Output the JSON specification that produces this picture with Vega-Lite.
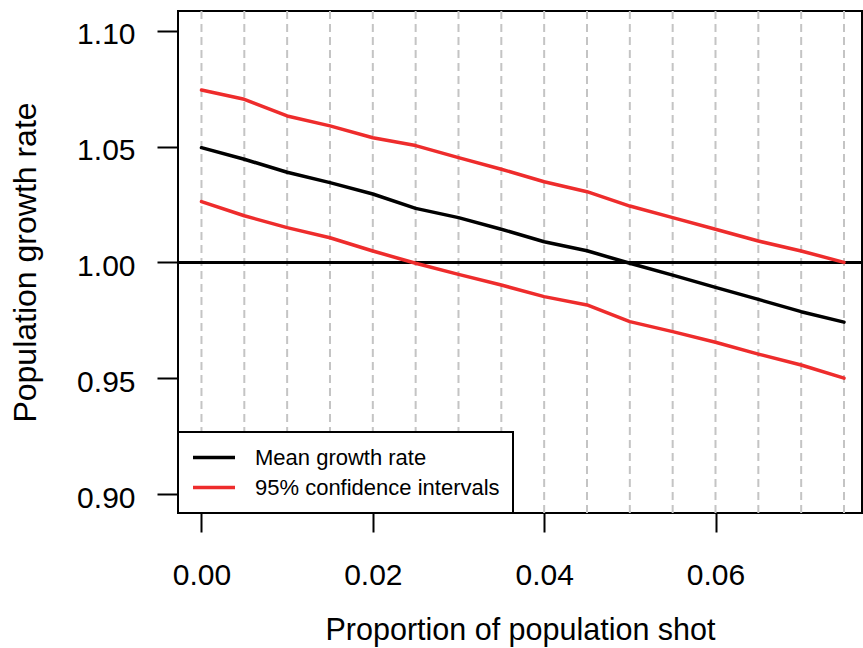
{
  "$schema": "https://vega.github.io/schema/vega-lite/v6.json",
  "width": 684,
  "height": 502,
  "autosize": {"type": "none"},
  "padding": {"left": 178, "top": 11, "right": 1, "bottom": 135},
  "background": "white",
  "config": {
    "view": {"stroke": "black", "strokeWidth": 2},
    "font": "Liberation Sans"
  },
  "data": {
    "values": [
      {"p": 0.000, "series": "mean", "type": "Mean growth rate", "r": 1.0495},
      {"p": 0.005, "series": "mean", "type": "Mean growth rate", "r": 1.0445},
      {"p": 0.010, "series": "mean", "type": "Mean growth rate", "r": 1.0389},
      {"p": 0.015, "series": "mean", "type": "Mean growth rate", "r": 1.0344},
      {"p": 0.020, "series": "mean", "type": "Mean growth rate", "r": 1.0295},
      {"p": 0.025, "series": "mean", "type": "Mean growth rate", "r": 1.0233},
      {"p": 0.030, "series": "mean", "type": "Mean growth rate", "r": 1.0193},
      {"p": 0.035, "series": "mean", "type": "Mean growth rate", "r": 1.0143},
      {"p": 0.040, "series": "mean", "type": "Mean growth rate", "r": 1.0089},
      {"p": 0.045, "series": "mean", "type": "Mean growth rate", "r": 1.0050},
      {"p": 0.050, "series": "mean", "type": "Mean growth rate", "r": 0.9996},
      {"p": 0.055, "series": "mean", "type": "Mean growth rate", "r": 0.9945},
      {"p": 0.060, "series": "mean", "type": "Mean growth rate", "r": 0.9892},
      {"p": 0.065, "series": "mean", "type": "Mean growth rate", "r": 0.9840},
      {"p": 0.070, "series": "mean", "type": "Mean growth rate", "r": 0.9787},
      {"p": 0.075, "series": "mean", "type": "Mean growth rate", "r": 0.9742},
      {"p": 0.000, "series": "upper", "type": "95% confidence intervals", "r": 1.0744},
      {"p": 0.005, "series": "upper", "type": "95% confidence intervals", "r": 1.0704},
      {"p": 0.010, "series": "upper", "type": "95% confidence intervals", "r": 1.0632},
      {"p": 0.015, "series": "upper", "type": "95% confidence intervals", "r": 1.0589},
      {"p": 0.020, "series": "upper", "type": "95% confidence intervals", "r": 1.0538},
      {"p": 0.025, "series": "upper", "type": "95% confidence intervals", "r": 1.0504},
      {"p": 0.030, "series": "upper", "type": "95% confidence intervals", "r": 1.0452},
      {"p": 0.035, "series": "upper", "type": "95% confidence intervals", "r": 1.0402},
      {"p": 0.040, "series": "upper", "type": "95% confidence intervals", "r": 1.0348},
      {"p": 0.045, "series": "upper", "type": "95% confidence intervals", "r": 1.0305},
      {"p": 0.050, "series": "upper", "type": "95% confidence intervals", "r": 1.0243},
      {"p": 0.055, "series": "upper", "type": "95% confidence intervals", "r": 1.0193},
      {"p": 0.060, "series": "upper", "type": "95% confidence intervals", "r": 1.0143},
      {"p": 0.065, "series": "upper", "type": "95% confidence intervals", "r": 1.0092},
      {"p": 0.070, "series": "upper", "type": "95% confidence intervals", "r": 1.0049},
      {"p": 0.075, "series": "upper", "type": "95% confidence intervals", "r": 1.0000},
      {"p": 0.000, "series": "lower", "type": "95% confidence intervals", "r": 1.0262},
      {"p": 0.005, "series": "lower", "type": "95% confidence intervals", "r": 1.0201},
      {"p": 0.010, "series": "lower", "type": "95% confidence intervals", "r": 1.0150},
      {"p": 0.015, "series": "lower", "type": "95% confidence intervals", "r": 1.0106},
      {"p": 0.020, "series": "lower", "type": "95% confidence intervals", "r": 1.0049},
      {"p": 0.025, "series": "lower", "type": "95% confidence intervals", "r": 0.9996},
      {"p": 0.030, "series": "lower", "type": "95% confidence intervals", "r": 0.9948},
      {"p": 0.035, "series": "lower", "type": "95% confidence intervals", "r": 0.9902},
      {"p": 0.040, "series": "lower", "type": "95% confidence intervals", "r": 0.9852},
      {"p": 0.045, "series": "lower", "type": "95% confidence intervals", "r": 0.9816},
      {"p": 0.050, "series": "lower", "type": "95% confidence intervals", "r": 0.9744},
      {"p": 0.055, "series": "lower", "type": "95% confidence intervals", "r": 0.9701},
      {"p": 0.060, "series": "lower", "type": "95% confidence intervals", "r": 0.9655},
      {"p": 0.065, "series": "lower", "type": "95% confidence intervals", "r": 0.9604},
      {"p": 0.070, "series": "lower", "type": "95% confidence intervals", "r": 0.9557},
      {"p": 0.075, "series": "lower", "type": "95% confidence intervals", "r": 0.9500}
    ]
  },
  "layer": [
    {
      "transform": [{"filter": "datum.series == 'mean'"}],
      "mark": {"type": "rule", "color": "#c4c4c4", "strokeWidth": 2, "strokeDash": [8, 5]},
      "encoding": {
        "x": {
          "field": "p", "type": "quantitative",
          "title": "Proportion of population shot",
          "scale": {"domain": [-0.00274, 0.0771], "nice": false, "zero": false}
        }
      }
    },
    {
      "mark": {"type": "rule", "color": "black", "strokeWidth": 2},
      "encoding": {
        "y": {
          "datum": 1, "type": "quantitative",
          "title": "Population growth rate",
          "scale": {"domain": [0.8918, 1.1085], "nice": false, "zero": false}
        }
      }
    },
    {
      "mark": {"type": "line", "strokeWidth": 3.5, "strokeCap": "round", "strokeJoin": "round"},
      "encoding": {
        "x": {
          "field": "p", "type": "quantitative",
          "title": "Proportion of population shot",
          "scale": {"domain": [-0.00274, 0.0771], "nice": false, "zero": false},
          "axis": {
            "values": [0, 0.02, 0.04, 0.06],
            "format": ".2f",
            "domain": false,
            "grid": false,
            "ticks": true,
            "tickColor": "black",
            "tickWidth": 2,
            "tickSize": 19,
            "labelFont": "Liberation Sans",
            "labelFontSize": 30,
            "labelColor": "black",
            "labelBaseline": "alphabetic",
            "labelPadding": 52,
            "labelFlush": false,
            "labelOverlap": false,
            "titleFont": "Liberation Sans",
            "titleFontSize": 30.5,
            "titleFontWeight": "normal",
            "titleColor": "black",
            "titleX": 342,
            "titleY": 126,
            "titleAlign": "center",
            "titleBaseline": "alphabetic"
          }
        },
        "y": {
          "field": "r", "type": "quantitative",
          "title": "Population growth rate",
          "scale": {"domain": [0.8918, 1.1085], "nice": false, "zero": false},
          "axis": {
            "values": [0.9, 0.95, 1.0, 1.05, 1.1],
            "format": ".2f",
            "domain": false,
            "grid": false,
            "ticks": true,
            "tickColor": "black",
            "tickWidth": 2,
            "tickSize": 21,
            "labelFont": "Liberation Sans",
            "labelFontSize": 30,
            "labelColor": "black",
            "labelPadding": 22,
            "labelOffset": 4,
            "labelFlush": false,
            "labelOverlap": false,
            "titleFont": "Liberation Sans",
            "titleFontSize": 32,
            "titleFontWeight": "normal",
            "titleColor": "black",
            "titleX": -143,
            "titleY": 251,
            "titleAngle": -90,
            "titleAlign": "center",
            "titleBaseline": "alphabetic"
          }
        },
        "color": {
          "field": "type", "type": "nominal",
          "scale": {
            "domain": ["Mean growth rate", "95% confidence intervals"],
            "range": ["black", "#EE2C2C"]
          },
          "legend": {
            "title": null,
            "orient": "none",
            "legendX": 0,
            "legendY": 421,
            "direction": "vertical",
            "fillColor": "white",
            "strokeColor": "black",
            "padding": 13,
            "cornerRadius": 0,
            "symbolType": "stroke",
            "symbolSize": 1764,
            "symbolStrokeWidth": 3.5,
            "clipHeight": 25,
            "rowPadding": 5,
            "labelOffset": 18,
            "labelFont": "Liberation Sans",
            "labelFontSize": 22,
            "labelColor": "black",
            "labelLimit": 400,
            "encode": {
              "legend": {"update": {"strokeWidth": {"value": 2}}}
            }
          }
        },
        "detail": {"field": "series", "type": "nominal"}
      }
    }
  ]
}
